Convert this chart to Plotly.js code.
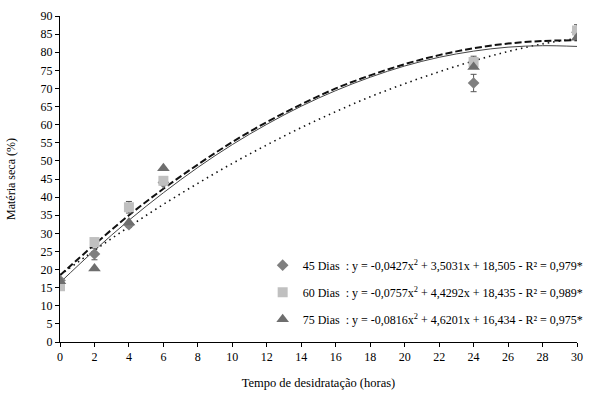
<!DOCTYPE html>
<html><head><meta charset="utf-8">
<script src="https://cdn.plot.ly/plotly-3.0.1.min.js"></script>
<style>html,body{margin:0;padding:0;background:#fff}#chart{width:600px;height:399px}</style>
</head><body><div id="chart"></div>
<script>
// Observed points
const hours = [0, 2, 4, 6, 24, 30];
const dias45 = [17.0, 24.3, 32.4, 44.0, 71.5, 85.5];
const err45 = [0, 1.6, 0.8, 0, 2.4, 0];
const dias60 = [15.4, 27.6, 37.2, 44.5, 77.3, 86.0];
const err60 = [0, 0, 1.6, 0, 1.6, 1.6];
const dias75 = [16.8, 20.3, 33.0, 48.0, 75.9, 84.0];
const err75 = [0, 0, 0, 0, 0, 0];

// Fitted curves
const fitHours = [0, 2, 4, 6, 8, 10, 12, 14, 16, 18, 20, 22, 24, 26, 28, 30];
const fit45 = [18.5, 25.3, 31.8, 38.0, 43.8, 49.3, 54.4, 59.2, 63.6, 67.7, 71.3, 74.6, 77.6, 80.2, 82.3, 83.8];
const fit60 = [18.4, 26.9, 35.0, 42.3, 49.0, 55.2, 60.7, 65.6, 70.0, 73.6, 76.7, 79.2, 81.1, 82.4, 83.1, 83.3];
const fit75 = [16.4, 25.3, 33.6, 41.2, 48.2, 54.5, 60.1, 65.1, 69.4, 73.1, 76.2, 78.6, 80.3, 81.4, 81.8, 81.6];

const names = ["45 Dias", "60 Dias", "75 Dias"];
const eqs = [
  ": y = -0,0427x<sup>2</sup> + 3,5031x + 18,505 - R² = 0,979*",
  ": y = -0,0757x<sup>2</sup> + 4,4292x + 18,435 - R² = 0,989*",
  ": y = -0,0816x<sup>2</sup> + 4,6201x + 16,434 - R² = 0,975*"
];

const F = "Liberation Serif, Times New Roman, serif";
const sp = "\u00a0\u00a0";

function pts(y, err, name, sym, color, size, grp) {
  return {
    x: hours, y: y, type: "scatter", mode: "markers", name: name,
    legendgroup: grp,
    marker: {symbol: sym, color: color, size: size},
    error_y: {type: "data", array: err, visible: true, color: "#555", thickness: 1, width: 3}
  };
}
function fit(y, dash, width, color) {
  return {x: fitHours, y: y, type: "scatter", mode: "lines", showlegend: false,
    line: {dash: dash, width: width, color: color, shape: "spline"}, hoverinfo: "skip"};
}

const data = [
  fit(fit45, "1.5px,4px", 1.6, "#111"),
  fit(fit60, "7px,3px", 2, "#111"),
  fit(fit75, "solid", 1, "#444"),
  pts(dias45, err45, names[0] + sp + eqs[0], "diamond", "#7f7f7f", 9, "a"),
  pts(dias60, err60, names[1] + sp + eqs[1], "square", "#c0c0c0", 10, "b"),
  pts(dias75, err75, names[2] + sp + eqs[2], "triangle-up", "#6e6e6e", 11, "c")
];

const layout = {
  width: 600, height: 399,
  margin: {l: 60, r: 23, t: 16, b: 57, autoexpand: false},
  paper_bgcolor: "#fff", plot_bgcolor: "#fff",
  font: {family: F, size: 12, color: "#000"},
  showlegend: true,
  legend: {x: 0.392, y: 0.28, xanchor: "left", yanchor: "top", bgcolor: "rgba(0,0,0,0)",
    font: {family: F, size: 12}, tracegroupgap: 8, itemwidth: 30},
  xaxis: {range: [0, 30], dtick: 2, tick0: 0, showgrid: false, zeroline: false,
    showline: true, linecolor: "#000", linewidth: 1, ticks: "outside", ticklen: 4, tickcolor: "#000",
    tickfont: {family: F, size: 12},
    title: {text: "Tempo de desidratação (horas)", font: {family: F, size: 12.5}, standoff: 14}},
  yaxis: {range: [0, 90], dtick: 5, tick0: 0, showgrid: false, zeroline: false,
    showline: true, linecolor: "#000", linewidth: 1, ticks: "outside", ticklen: 4, tickcolor: "#000",
    tickfont: {family: F, size: 12},
    title: {text: "Matéria seca (%)", font: {family: F, size: 12}, standoff: 22}}
};

Plotly.newPlot("chart", data, layout, {displayModeBar: false, staticPlot: true});
</script></body></html>
